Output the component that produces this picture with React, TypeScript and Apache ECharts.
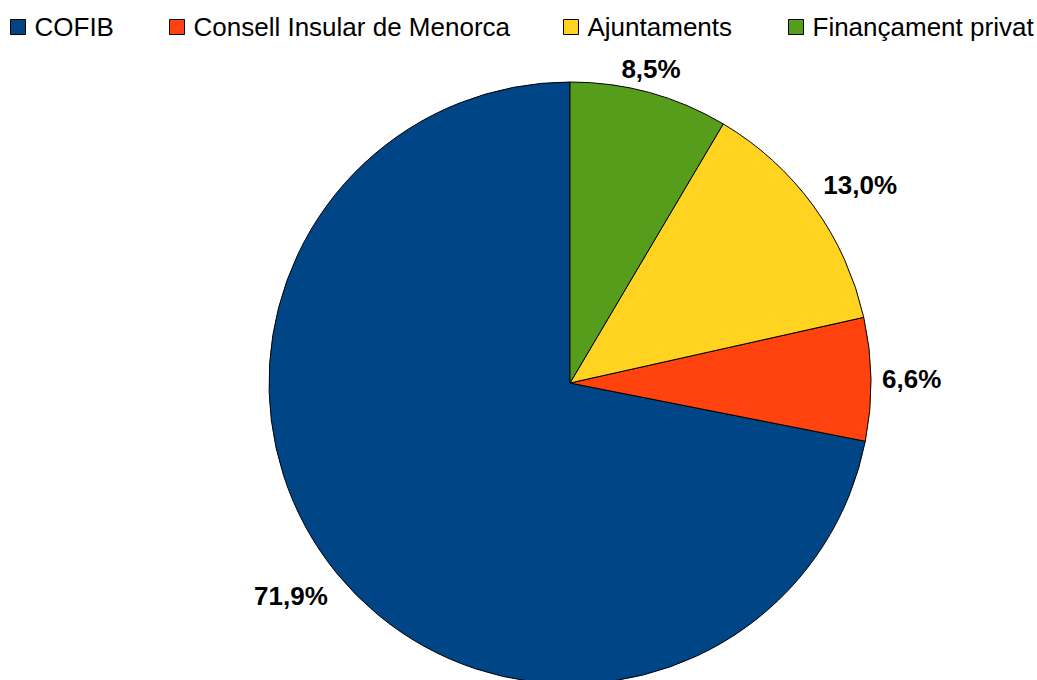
import React, { useEffect, useRef } from "react";
import * as echarts from "echarts";

const categories = ["COFIB", "Consell Insular de Menorca", "Ajuntaments", "Finançament privat"];
const values = [71.9, 6.6, 13.0, 8.5];
const colors = ["#004586", "#ff420e", "#ffd320", "#579d1c"];
const legendLeft = [10, 169, 563, 788];

const CX = 570;
const CY = 383;
const R = 301;
const START = 90;

function midAngle(i: number): number {
  const total = values.reduce((a, b) => a + b, 0);
  let cum = 0;
  for (let k = 0; k < i; k++) cum += values[k];
  return START + ((cum + values[i] / 2) / total) * 360;
}

export default function App() {
  const ref = useRef<HTMLDivElement>(null);
  useEffect(() => {
    if (!ref.current) return;
    const chart = echarts.init(ref.current, null, { renderer: "svg" });
    const font = "'Liberation Sans', Arial, sans-serif";
    chart.setOption({
      animation: false,
      backgroundColor: "#ffffff",
      legend: categories.map((c, i) => ({
        data: [c],
        left: legendLeft[i],
        top: 14,
        padding: 0,
        icon: "rect",
        itemWidth: 15,
        itemHeight: 15,
        selectedMode: false,
        itemStyle: { borderColor: "#000", borderWidth: 1 },
        textStyle: { fontFamily: font, fontSize: 26, color: "#000", padding: [0, 0, 0, 4] },
      })),
      series: [
        {
          type: "pie",
          center: [CX, CY],
          radius: R,
          startAngle: START,
          clockwise: false,
          data: categories.map((c, i) => ({
            name: c,
            value: values[i],
            itemStyle: { color: colors[i] },
          })),
          itemStyle: { borderColor: "#000", borderWidth: 1 },
          emphasis: { disabled: true },
          labelLine: { show: false },
          label: {
            show: true,
            position: "inside",
            fontFamily: font,
            fontSize: 26,
            fontWeight: "bold",
            color: "#000",
            formatter: (p: any) => `${Number(p.value).toFixed(1).replace(".", ",")}%`,
          },
          labelLayout: (p: any) => {
            const a = (midAngle(p.dataIndex) * Math.PI) / 180;
            const c = Math.cos(a);
            const s = Math.sin(a);
            const w = p.labelRect.width;
            const h = p.labelRect.height;
            let x = CX + (R + 6) * c;
            let y = CY - (R + 6) * s;
            if (c > 0.3) x += 5 + w / 2;
            else if (c < -0.3) x -= 5 + w / 2;
            if (s > 0.3) y -= 5 + h / 2;
            else if (s < -0.3) y += 5 + h / 2;
            return { x, y };
          },
        },
      ],
    });
    return () => chart.dispose();
  }, []);
  return (
    <div
      ref={ref}
      style={{ position: "absolute", left: 0, top: 0, width: 1037, height: 680 }}
    />
  );
}
